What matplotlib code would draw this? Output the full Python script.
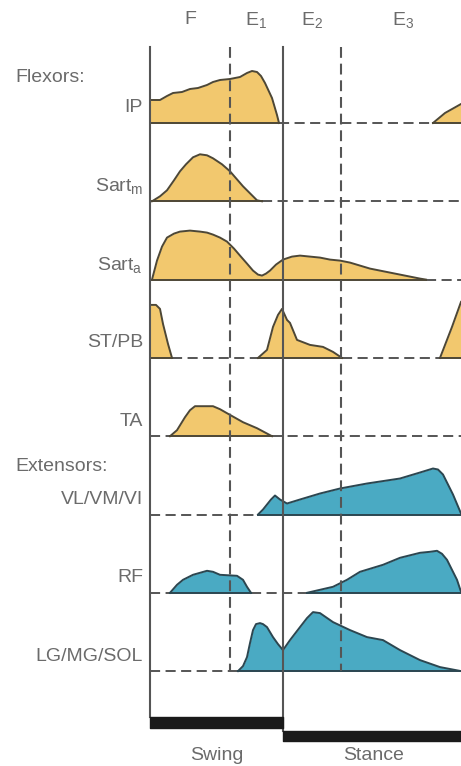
import numpy as np
import matplotlib
matplotlib.use("Agg")
import matplotlib.pyplot as plt

plt.rcParams["font.family"] = ["Liberation Sans", "DejaVu Sans"]
plt.rcParams["mathtext.default"] = "regular"

# phases of the step cycle (x in cycle units, 0 = start of swing)
phase_names = ["F", "E$_1$", "E$_2$", "E$_3$"]
phase_edges = [0, 80, 133, 191, 315]
swing_end = 133
cycle_end = 315
x_view = 311

# EMG bursts: each muscle has a list of bursts (x positions, activity)
ip_x = [[0, 10, 17, 23, 32, 40, 48, 57, 63, 70, 80, 90, 97, 102, 107, 111,
         115, 122, 127, 129],
        [283, 295, 311]]
ip_y = [[23, 23, 27, 30, 31, 34, 35, 38, 41, 43, 44, 46, 50, 52, 51, 47,
         40, 25, 8, 0],
        [0, 10, 19]]

sartm_x = [[2, 10, 17, 24, 30, 36, 43, 50, 57, 63, 72, 80, 93, 107, 112]]
sartm_y = [[0, 5, 11, 21, 30, 37, 44, 47, 46, 43, 37, 30, 15, 1, 0]]

sarta_x = [[2, 7, 12, 17, 24, 30, 40, 50, 57, 63, 70, 77, 84, 90, 97, 103,
            108, 112, 116, 120, 126, 133, 142, 150, 160, 170, 180, 190,
            200, 210, 220, 230, 240, 250, 260, 270, 276]]
sarta_y = [[0, 19, 33, 42, 46, 48, 49, 48, 47, 45, 42, 38, 31, 24, 16, 9,
            5, 4, 6, 9, 15, 20, 23, 24, 23, 22, 20, 19, 17, 14, 11, 9, 7,
            5, 3, 1, 0]]

stpb_x = [[0, 6, 10, 13, 18, 22],
          [108, 117, 123, 128, 132, 137, 140, 147, 160, 173, 183, 192],
          [290, 302, 311]]
stpb_y = [[53, 53, 49, 34, 14, 0],
          [0, 8, 31, 43, 49, 38, 35, 18, 13, 11, 6, 0],
          [0, 31, 56]]

ta_x = [[20, 27, 35, 40, 45, 63, 70, 77, 93, 107, 122]]
ta_y = [[0, 6, 19, 26, 30, 30, 27, 23, 14, 8, 0]]

vl_x = [[108, 113, 117, 121, 125, 130, 137, 150, 170, 190, 217, 250, 270,
         283, 288, 293, 303, 311]]
vl_y = [[0, 5, 10, 15, 19, 15, 11, 15, 21, 26, 31, 36, 42, 46, 45, 40,
         20, 1]]

rf_x = [[20, 27, 33, 43, 50, 57, 63, 70, 87, 93, 97, 101],
        [157, 183, 197, 210, 233, 250, 270, 280, 287, 292, 297, 307, 311]]
rf_y = [[0, 8, 13, 18, 20, 22, 21, 18, 17, 13, 6, 0],
        [0, 6, 13, 21, 28, 35, 40, 41, 42, 39, 33, 13, 1]]

lg_x = [[88, 93, 97, 100, 103, 106, 110, 113, 117, 123, 128, 133, 140,
         150, 157, 163, 170, 183, 200, 217, 233, 250, 270, 290, 311]]
lg_y = [[0, 5, 14, 28, 41, 47, 48, 47, 44, 34, 27, 21, 31, 44, 53, 59,
         58, 49, 41, 34, 31, 21, 11, 4, 0]]

muscle_labels = ["IP", "Sart$_m$", "Sart$_a$", "ST/PB", "TA",
                 "VL/VM/VI", "RF", "LG/MG/SOL"]
muscle_x = [ip_x, sartm_x, sarta_x, stpb_x, ta_x, vl_x, rf_x, lg_x]
muscle_y = [ip_y, sartm_y, sarta_y, stpb_y, ta_y, vl_y, rf_y, lg_y]
is_flexor = [True, True, True, True, True, False, False, False]

flexor_fill, flexor_edge = "#f2c86e", "#4d4736"
extensor_fill, extensor_edge = "#4aaac3", "#2c4650"
line_col = "#555555"
text_col = "#6b6b6b"
fs = 14
row_gap = 78.3
dash = (0, (5.2, 2.8))

fig = plt.figure(figsize=(4.61, 7.66), dpi=100)
ax = fig.add_axes([0, 0, 1, 1])
ax.set_xlim(-150, x_view)
ax.set_ylim(-643, 123)
ax.axis("off")

for i, (name, xs, ys, flex) in enumerate(zip(muscle_labels, muscle_x,
                                             muscle_y, is_flexor)):
    base = -i * row_gap
    fc = flexor_fill if flex else extensor_fill
    ec = flexor_edge if flex else extensor_edge

    # dashed baseline where the muscle is silent
    start = 0
    for a, b in sorted((x[0], x[-1]) for x in xs):
        if a - start > 4:
            ax.plot([start, a], [base, base], color=line_col, lw=1.4,
                    linestyle=dash, zorder=1)
        start = max(start, b)
    if x_view - start > 4:
        ax.plot([start, x_view], [base, base], color=line_col, lw=1.4,
                linestyle=dash, zorder=1)

    for bx, by in zip(xs, ys):
        bx = np.array(bx)
        top = base + np.array(by)
        ax.fill_between(bx, base, top, color=fc, lw=0, zorder=2)
        ax.plot(bx, top, color=ec, lw=1.4, zorder=3,
                solid_joinstyle="round")
        ax.plot([bx[0], bx[-1]], [base, base], color=ec, lw=1.4, zorder=3)

    ax.text(-7, base + 15, name, ha="right", va="center", fontsize=fs,
            color=text_col)

ax.text(-135, 45, "Flexors:", ha="left", va="center", fontsize=fs,
        color=text_col)
ax.text(-135, -5 * row_gap + 48, "Extensors:", ha="left", va="center",
        fontsize=fs, color=text_col)

# phase boundaries
top_y = 76
ax.plot([0, 0], [top_y, -594], color=line_col, lw=1.5, zorder=4)
ax.plot([swing_end, swing_end], [top_y, -608], color=line_col, lw=1.5,
        zorder=4)
for xe in (phase_edges[1], phase_edges[3]):
    ax.plot([xe, xe], [top_y, -7 * row_gap], color=line_col, lw=1.5,
            linestyle=dash, zorder=4)

for name, a, b in zip(phase_names, phase_edges[:-1], phase_edges[1:]):
    ax.text((a + b) / 2, 103, name, ha="center", va="center", fontsize=fs,
            color=text_col)

# swing / stance bars
ax.broken_barh([(0, swing_end)], (-605, 11), color="#1a1a1a", zorder=4)
ax.broken_barh([(swing_end, cycle_end - swing_end)], (-618, 10),
               color="#1a1a1a", zorder=4)
ax.text(swing_end / 2, -632, "Swing", ha="center", va="center", fontsize=fs,
        color=text_col)
ax.text((swing_end + cycle_end) / 2, -632, "Stance", ha="center",
        va="center", fontsize=fs, color=text_col)

fig.savefig("out.png", dpi=100)
